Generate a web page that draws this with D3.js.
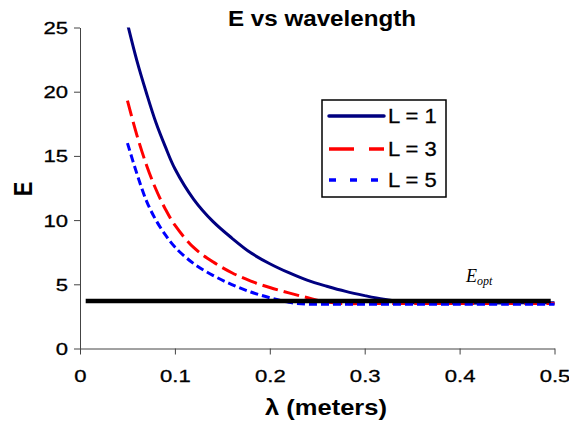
<!DOCTYPE html>
<html>
<head>
<meta charset="utf-8">
<script src="https://cdn.jsdelivr.net/npm/d3@7"></script>
<style>
  body { margin: 0; background: #fff; }
  svg text { font-family: "Liberation Sans", Arial, sans-serif; fill: #000; }
</style>
</head>
<body>
<div id="chart"></div>
<script>

// wavelength samples (meters)
var lambdas = [0.05, 0.06, 0.07, 0.08, 0.09, 0.10, 0.12, 0.14, 0.16, 0.18, 0.20, 0.22,
               0.24, 0.26, 0.28, 0.30, 0.32, 0.34, 0.36, 0.38, 0.40, 0.45, 0.50];

// E for each L
var eL1 = [25.3, 22.4, 19.9, 17.6, 15.7, 14.0, 11.6, 9.9, 8.6, 7.45, 6.6, 5.9,
           5.3, 4.85, 4.45, 4.12, 3.83, 3.63, 3.53, 3.52, 3.53, 3.55, 3.56];
var eL3 = [19.3, 16.6, 14.3, 12.4, 10.85, 9.6, 7.85, 6.75, 5.9, 5.25, 4.75, 4.33,
           3.95, 3.62, 3.5, 3.5, 3.5, 3.5, 3.5, 3.5, 3.5, 3.5, 3.5];
var eL5 = [16.0, 13.6, 11.5, 10.0, 8.85, 7.9, 6.6, 5.7, 4.98, 4.4, 3.95, 3.6,
           3.45, 3.45, 3.45, 3.45, 3.45, 3.45, 3.45, 3.45, 3.45, 3.45, 3.45];

var seriesNames = ['L = 1', 'L = 3', 'L = 5'];

// optimum line
var optLambda = [0.006, 0.496];
var optE = 3.7;

var xTicks = [0, 0.1, 0.2, 0.3, 0.4, 0.5];
var yTicks = [0, 5, 10, 15, 20, 25];

var W = 569, H = 423;

var svg = d3.select('#chart').append('svg')
            .attr('width', W)
            .attr('height', H);

var x = d3.scaleLinear().domain([0, 0.5]).range([80, 554.5]);
var y = d3.scaleLinear().domain([0, 25]).range([348.5, 27.5]);

// the original chart is a bit stretched sideways, so are its fonts
var tickStretch = 1.3;

// axes
var yAxis = svg.append('g')
               .attr('transform', 'translate(80,0)')
               .call(d3.axisLeft(y).tickValues(yTicks).tickSize(6).tickSizeOuter(0));
yAxis.selectAll('text')
     .attr('x', null)
     .attr('dy', null)
     .attr('font-size', 17)
     .attr('transform', 'translate(-12,6) scale(' + tickStretch + ',1)');

var xAxis = svg.append('g')
               .attr('transform', 'translate(0,348.5)')
               .call(d3.axisBottom(x).tickValues(xTicks).tickSize(6).tickSizeOuter(0)
                        .tickFormat(function(d) { return d === 0 ? '0' : d3.format('.1f')(d); }));
xAxis.selectAll('text')
     .attr('y', null)
     .attr('dy', null)
     .attr('font-size', 17)
     .attr('transform', 'translate(0,33.5) scale(' + tickStretch + ',1)');

svg.selectAll('.domain, .tick line').attr('stroke', '#444');
// a touch heavier, like the original's glyphs
svg.selectAll('.tick text').style('fill', '#000')
   .attr('stroke', '#000').attr('stroke-width', 0.3);

// curves
svg.append('clipPath').attr('id', 'plot')
   .append('rect')
   .attr('x', x(0)).attr('y', y(25))
   .attr('width', x(0.5) - x(0) + 4)
   .attr('height', y(0) - y(25));

var line = d3.line()
             .x(function(d) { return x(d[0]); })
             .y(function(d) { return y(d[1]); })
             .curve(d3.curveCatmullRom.alpha(0.5));

var series = [
  { name: seriesNames[0], values: eL1, color: '#000080', dash: null,   legendDash: null },
  { name: seriesNames[1], values: eL3, color: '#ff0000', dash: '16,6', legendDash: '25,15' },
  { name: seriesNames[2], values: eL5, color: '#0000ff', dash: '8,4',  legendDash: '7,14' }
];

var plot = svg.append('g').attr('clip-path', 'url(#plot)');

plot.selectAll('path.curve')
    .data(series)
    .enter()
    .append('path')
    .attr('class', 'curve')
    .attr('d', function(s) {
      return line(lambdas.map(function(l, i) { return [l, s.values[i]]; }));
    })
    .attr('fill', 'none')
    .attr('stroke', function(s) { return s.color; })
    .attr('stroke-width', 3)
    .attr('stroke-dasharray', function(s) { return s.dash; });

// E opt
svg.append('line')
   .attr('x1', x(optLambda[0])).attr('x2', x(optLambda[1]))
   .attr('y1', y(optE)).attr('y2', y(optE))
   .attr('stroke', '#000')
   .attr('stroke-width', 4.5);

var eopt = svg.append('text')
              .attr('x', 466).attr('y', 282)
              .style('font-family', '"Liberation Serif", "Times New Roman", serif')
              .style('font-style', 'italic')
              .attr('font-size', 18);
eopt.append('tspan').text('E');
eopt.append('tspan').attr('font-size', 12).attr('dy', 3).text('opt');

// legend
var legend = svg.append('g');
legend.append('rect')
      .attr('x', 322).attr('y', 100)
      .attr('width', 124).attr('height', 97)
      .attr('fill', '#fff')
      .attr('stroke', '#000')
      .attr('stroke-width', 1.5);

var rowY = [116, 149, 180];
var item = legend.selectAll('g.item')
                 .data(series)
                 .enter()
                 .append('g')
                 .attr('class', 'item')
                 .attr('transform', function(d, i) { return 'translate(0,' + rowY[i] + ')'; });
item.append('line')
    .attr('x1', 329).attr('x2', 384)
    .attr('stroke', function(s) { return s.color; })
    .attr('stroke-width', 3.5)
    .attr('stroke-linecap', function(s) { return s.dash ? 'butt' : 'round'; })
    .attr('stroke-dasharray', function(s) { return s.legendDash; });
item.append('text')
    .attr('transform', 'translate(388,7) scale(1.1,1)')
    .attr('font-size', 20)
    .attr('stroke', '#000')
    .attr('stroke-width', 0.3)
    .text(function(s) { return s.name; });

// titles
svg.append('text')
   .attr('transform', 'translate(322,26) scale(1.1,1)')
   .attr('text-anchor', 'middle')
   .attr('font-size', 22)
   .attr('font-weight', 'bold')
   .text('E vs wavelength');

svg.append('text')
   .attr('transform', 'translate(326,415) scale(1.16,1)')
   .attr('text-anchor', 'middle')
   .attr('font-size', 22)
   .attr('font-weight', 'bold')
   .text('λ (meters)');

svg.append('text')
   .attr('transform', 'translate(31.5,189) rotate(-90) scale(1,1.2)')
   .attr('text-anchor', 'middle')
   .attr('font-size', 22)
   .attr('font-weight', 'bold')
   .text('E');

</script>
</body>
</html>
